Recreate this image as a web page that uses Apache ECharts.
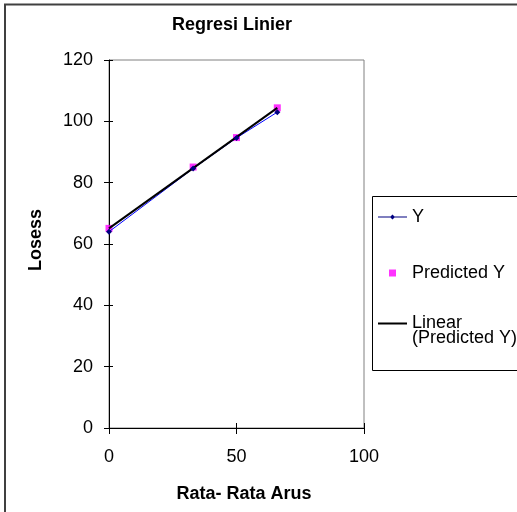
<!DOCTYPE html>
<html>
<head>
<meta charset="utf-8">
<script src="https://cdn.jsdelivr.net/npm/echarts@6/dist/echarts.min.js"></script>
<style>
  html, body { margin: 0; padding: 0; background: #fff; }
  #chart { width: 517px; height: 512px; }
</style>
</head>
<body>
<div id="chart"></div>
<script>
// data
var arus = [0, 33, 50, 66];                 // Rata- Rata Arus
var yValues = [64, 84.6, 94.6, 103];        // Y
var predictedY = [65.1, 85.1, 94.7, 104.4]; // Predicted Y
var trendX = [0, 66];                       // Linear (Predicted Y) ends
var trendY = [65.1, 104.4];
var xTicks = [0, 50, 100];
var yTicks = [0, 20, 40, 60, 80, 100, 120];

var font = 'Arial, "Liberation Sans", sans-serif';

function pairs(xs, ys) {
    return xs.map(function (x, i) { return [x, ys[i]]; });
}

var chart = echarts.init(document.getElementById('chart'));

var option = {
    backgroundColor: '#fff',
    animation: false,
    title: {
        text: 'Regresi Linier',
        left: 232,
        textAlign: 'center',
        top: 16,
        padding: 0,
        textStyle: { fontFamily: font, fontSize: 18, fontWeight: 'bold', color: '#000' }
    },
    // two legends so the two-line entry sits like the original
    legend: [{
        data: [
            { name: 'Y', icon: 'path://M0,6.5h29v1h-29z M14.5,4.5l2.5,2.5l-2.5,2.5l-2.5,-2.5z' },
            { name: 'Predicted Y', icon: 'path://M0,7L29,7 M11,3.5h7v7h-7z' }
        ],
        orient: 'vertical',
        left: 378,
        top: 208,
        padding: 0,
        itemGap: 38,
        itemWidth: 29,
        itemHeight: 14,
        selectedMode: false,
        textStyle: { fontFamily: font, fontSize: 18, color: '#000', lineHeight: 14 }
    }, {
        data: [
            { name: 'Linear (Predicted Y)', icon: 'path://M0,0L29,0 M0,6h29v2h-29z M0,29L29,29' }
        ],
        formatter: function () { return 'Linear\n(Predicted Y)'; },
        orient: 'vertical',
        left: 378,
        top: 314.5,
        padding: 0,
        itemWidth: 29,
        itemHeight: 29,
        selectedMode: false,
        textStyle: { fontFamily: font, fontSize: 18, color: '#000', lineHeight: 15 }
    }],
    graphic: [{
        type: 'rect',
        shape: { x: 5, y: 4.5, width: 560, height: 560 },
        style: { fill: null, stroke: '#404040', lineWidth: 2 },
        silent: true
    }, {
        type: 'rect',
        shape: { x: 372.5, y: 196.5, width: 160, height: 174 },
        style: { fill: null, stroke: '#000', lineWidth: 1 },
        silent: true
    }],
    grid: [{
        left: 109, right: 153, top: 60, bottom: 84,
        show: true, borderColor: '#808080', borderWidth: 1
    }, {
        left: 109, right: 153, top: 60, bottom: 84
    }],
    xAxis: [{
        type: 'value',
        gridIndex: 0,
        min: 0, max: 100, interval: 50,
        name: 'Rata- Rata Arus',
        nameLocation: 'middle',
        nameGap: 57,
        nameTextStyle: { fontFamily: font, fontSize: 18, fontWeight: 'bold', color: '#000', padding: [0, 0, 0, 15] },
        axisLine: { show: true, lineStyle: { color: '#000', width: 1 } },
        axisTick: { show: true, length: 6, lineStyle: { color: '#000' } },
        axisLabel: {
            margin: 20, fontFamily: font, fontSize: 18, color: '#000',
            formatter: function (v) { return xTicks.indexOf(v) >= 0 ? String(v) : ''; }
        },
        splitLine: { show: false }
    }, {
        // inner half of the crossing ticks
        type: 'value',
        gridIndex: 1,
        min: 0, max: 100, interval: 50,
        axisLine: { show: false },
        axisTick: { show: true, inside: true, length: 5, lineStyle: { color: '#000' } },
        axisLabel: { show: false },
        splitLine: { show: false }
    }],
    yAxis: [{
        type: 'value',
        gridIndex: 0,
        min: 0, max: 120, interval: 20,
        name: 'Losess',
        nameLocation: 'middle',
        nameGap: 64,
        nameRotate: 90,
        nameTextStyle: { fontFamily: font, fontSize: 18, fontWeight: 'bold', color: '#000', padding: [0, 0, 0, 8] },
        axisLine: { show: true, lineStyle: { color: '#000', width: 1 } },
        axisTick: { show: true, length: 5, lineStyle: { color: '#000' } },
        axisLabel: {
            margin: 16, fontFamily: font, fontSize: 18, color: '#000',
            formatter: function (v) { return yTicks.indexOf(v) >= 0 ? String(v) : ''; }
        },
        splitLine: { show: false }
    }, {
        type: 'value',
        gridIndex: 1,
        min: 0, max: 120, interval: 20,
        axisLine: { show: false },
        axisTick: { show: true, inside: true, length: 4, lineStyle: { color: '#000' } },
        axisLabel: { show: false },
        splitLine: { show: false }
    }],
    series: [{
        name: 'Y',
        type: 'line',
        xAxisIndex: 0, yAxisIndex: 0,
        data: pairs(arus, yValues),
        symbol: 'diamond',
        symbolSize: 6,
        itemStyle: { color: '#000080' },
        lineStyle: { color: '#0000ff', width: 1 }
    }, {
        name: 'Predicted Y',
        type: 'scatter',
        xAxisIndex: 0, yAxisIndex: 0,
        data: pairs(arus, predictedY),
        symbol: 'rect',
        symbolSize: 7,
        itemStyle: { color: '#ff00ff' }
    }, {
        name: 'Linear (Predicted Y)',
        type: 'line',
        xAxisIndex: 0, yAxisIndex: 0,
        data: pairs(trendX, trendY),
        symbol: 'none',
        itemStyle: { color: '#000' },
        lineStyle: { color: '#000', width: 2 }
    }]
};

chart.setOption(option);
</script>
</body>
</html>
